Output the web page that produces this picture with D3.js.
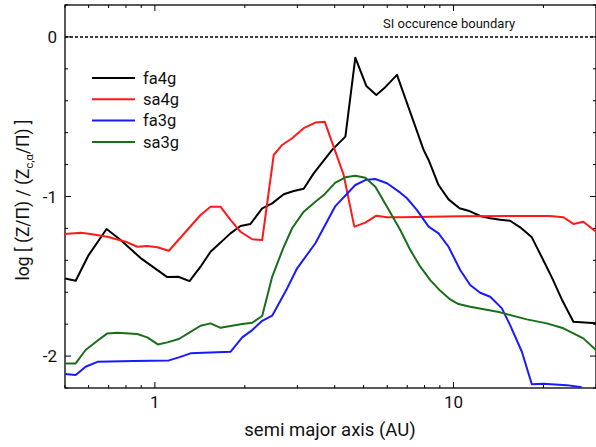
<!DOCTYPE html>
<html><head><meta charset="utf-8">
<script src="https://cdn.jsdelivr.net/npm/d3@7"></script>
<style>
body{margin:0;background:#fff;}
text{font-family:Roboto,"Noto Sans",sans-serif;}
</style></head>
<body><svg id="c" width="596" height="447"></svg>
<script>
// ---- data ----
const seriesNames = ["fa4g","sa4g","fa3g","sa3g"];
const seriesColors = ["#000000","#ff1a1a","#1a1aff","#1a6e1a"];
const fa4gX = [0.5,0.543,0.6,0.689,0.768,0.896,1.100,1.198,1.306,1.422,1.536,1.791,1.935,2.090,2.287,2.470,2.701,2.917,3.150,3.402,3.921,4.344,4.690,5.105,5.514,5.909,6.467,7.939,8.251,8.910,9.623,10.47,11.22,12.28,13.27,14.33,15.47,16.72,18.29,19.76,21.34,23.05,25.20,30];
const fa4gY = [-1.513,-1.528,-1.367,-1.204,-1.273,-1.386,-1.505,-1.503,-1.530,-1.440,-1.346,-1.231,-1.185,-1.172,-1.074,-1.043,-0.986,-0.966,-0.951,-0.855,-0.708,-0.625,-0.130,-0.307,-0.364,-0.315,-0.238,-0.708,-0.771,-0.928,-1.018,-1.074,-1.089,-1.122,-1.137,-1.145,-1.152,-1.193,-1.256,-1.381,-1.507,-1.645,-1.785,-1.795];
const sa4gX = [0.5,0.564,0.609,0.693,0.798,0.873,0.943,1.019,1.114,1.422,1.536,1.658,1.791,1.935,2.118,2.287,2.500,2.668,2.881,3.150,3.447,3.704,4.287,4.654,5.067,5.514,5.987,6.633,10.53,21.06,23.34,25.20,27.22,30];
const sa4gY = [-1.235,-1.227,-1.235,-1.252,-1.283,-1.315,-1.310,-1.318,-1.340,-1.116,-1.064,-1.064,-1.147,-1.221,-1.268,-1.273,-0.740,-0.677,-0.635,-0.572,-0.537,-0.531,-0.865,-1.189,-1.164,-1.120,-1.130,-1.130,-1.124,-1.122,-1.130,-1.172,-1.158,-1.221];
const fa3gX = [0.5,0.543,0.586,0.642,0.849,1.114,1.203,1.316,1.791,1.961,2.118,2.287,2.470,2.772,2.994,3.447,4.021,4.690,5.067,5.472,5.987,6.633,6.985,7.545,8.251,8.910,9.623,10.53,11.37,12.28,13.27,14.52,15.47,16.94,18.29,20.00,23.95,26.88];
const fa3gY = [-2.113,-2.119,-2.067,-2.036,-2.031,-2.027,-2.008,-1.983,-1.973,-1.883,-1.837,-1.779,-1.747,-1.576,-1.450,-1.293,-1.060,-0.928,-0.897,-0.890,-0.917,-0.976,-1.011,-1.085,-1.189,-1.231,-1.315,-1.461,-1.555,-1.603,-1.628,-1.701,-1.806,-1.973,-2.176,-2.174,-2.182,-2.196];
const sa3gX = [0.5,0.543,0.586,0.642,0.693,0.749,0.873,0.943,1.023,1.100,1.203,1.316,1.422,1.536,1.658,1.791,1.961,2.118,2.287,2.470,2.688,2.881,3.150,3.447,3.676,4.021,4.344,4.690,5.067,5.472,5.987,6.633,7.166,7.739,8.359,9.028,9.750,10.39,11.37,14.33,17.60,20.53,23.34,25.20,27.22,30];
const sa3gY = [-2.046,-2.046,-1.962,-1.904,-1.858,-1.854,-1.862,-1.883,-1.927,-1.914,-1.893,-1.848,-1.810,-1.795,-1.823,-1.812,-1.799,-1.791,-1.749,-1.503,-1.325,-1.199,-1.095,-1.033,-0.991,-0.913,-0.880,-0.870,-0.882,-0.939,-1.064,-1.210,-1.335,-1.440,-1.524,-1.591,-1.645,-1.674,-1.691,-1.726,-1.770,-1.795,-1.826,-1.858,-1.889,-1.962];
const xTickValues = [1,10];
const xTickLabels = ["1","10"];
const yTickValues = [0,-1,-2];
const yTickLabels = ["0","-1","-2"];
const boundaryValue = 0;
const boundaryLabel = "SI occurence boundary";

const seriesX = [fa4gX, sa4gX, fa3gX, sa3gX];
const seriesY = [fa4gY, sa4gY, fa3gY, sa3gY];

// ---- layout ----
const svg = d3.select("#c");
const L = 65, R = 596, T = 5, B = 388;
const x = d3.scaleLog().domain([0.5, 30]).range([L, R]);
const y = d3.scaleLinear().domain([-2.2, 0.2]).range([B, T]);

svg.append("clipPath").attr("id","clp").append("rect")
  .attr("x",L).attr("y",T).attr("width",R-L).attr("height",B-T);

// minor ticks
const xMinor = [];
[0.1,1,10].forEach(d=>{for(let k=1;k<10;k++){const v=d*k; if(v>=0.5&&v<=30) xMinor.push(v);}});
const yMinor = d3.range(-2.2, 0.2001, 0.2).map(v=>+v.toFixed(2));

const g = svg.append("g");
xMinor.forEach(v=>{
  const major = xTickValues.includes(v);
  const len = major?6:3;
  g.append("line").attr("x1",x(v)).attr("x2",x(v)).attr("y1",B).attr("y2",B-len).attr("stroke","#000").attr("stroke-width",1);
  g.append("line").attr("x1",x(v)).attr("x2",x(v)).attr("y1",T).attr("y2",T+len).attr("stroke","#000").attr("stroke-width",1);
});
yMinor.forEach(v=>{
  const major = Math.abs(v-Math.round(v))<1e-6;
  const len = major?6:3;
  g.append("line").attr("y1",y(v)).attr("y2",y(v)).attr("x1",L).attr("x2",L+len).attr("stroke","#000").attr("stroke-width",1);
  g.append("line").attr("y1",y(v)).attr("y2",y(v)).attr("x1",R).attr("x2",R-len).attr("stroke","#000").attr("stroke-width",1);
});
xTickValues.forEach((v,i)=>{
  g.append("text").attr("x",x(v)).attr("y",B+20).attr("text-anchor","middle")
   .attr("font-size",17).attr("fill","#111").text(xTickLabels[i]);
});
yTickValues.forEach((v,i)=>{
  g.append("text").attr("x",L-8).attr("y",y(v)).attr("dy","0.36em").attr("text-anchor","end")
   .attr("font-size",17).attr("fill","#111").text(yTickLabels[i]);
});

// frame
svg.append("rect").attr("x",L).attr("y",T).attr("width",R-L).attr("height",B-T)
  .attr("fill","none").attr("stroke","#000").attr("stroke-width",1.3);

// boundary
svg.append("line").attr("x1",L).attr("x2",R).attr("y1",y(boundaryValue)).attr("y2",y(boundaryValue))
  .attr("stroke","#000").attr("stroke-width",1.5).attr("stroke-dasharray","3,2");
svg.append("text").attr("x",383).attr("y",y(boundaryValue)-9).attr("font-size",13).attr("fill","#111").text(boundaryLabel);

// series
const line = d3.line().x(d=>x(d[0])).y(d=>y(d[1]));
seriesNames.forEach((n,i)=>{
  const pts = seriesX[i].map((v,j)=>[v, seriesY[i][j]]);
  svg.append("path").attr("d",line(pts)).attr("fill","none")
    .attr("stroke",seriesColors[i]).attr("stroke-width",2).attr("stroke-linejoin","round")
    .attr("clip-path","url(#clp)");
});

// legend
seriesNames.forEach((n,i)=>{
  const ly = 78 + i*21.3;
  svg.append("line").attr("x1",92).attr("x2",135).attr("y1",ly).attr("y2",ly)
    .attr("stroke",seriesColors[i]).attr("stroke-width",2);
  svg.append("text").attr("x",143).attr("y",ly).attr("dy","0.35em").attr("font-size",16.5).attr("fill","#111").text(n);
});

// axis titles
svg.append("text").attr("x",330).attr("y",436).attr("text-anchor","middle").attr("font-size",18.5).attr("fill","#111")
  .text("semi major axis (AU)");
const yt = svg.append("text").attr("transform","translate(29,200) rotate(-90)").attr("text-anchor","middle")
  .attr("font-size",17.5).attr("fill","#111");
yt.append("tspan").text("log [ (Z/Π) / (Z");
yt.append("tspan").attr("font-size",11).attr("dy",4).text("c,α");
yt.append("tspan").attr("dy",-4).text("/Π) ]");
</script></body></html>
